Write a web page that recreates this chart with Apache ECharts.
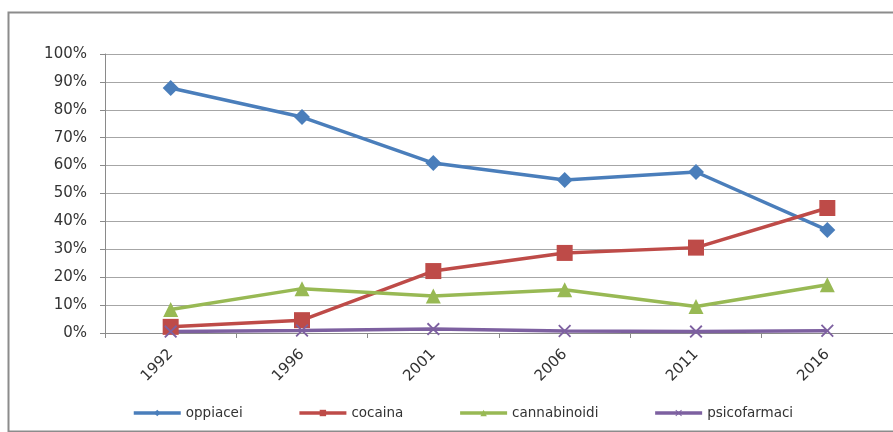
<!DOCTYPE html>
<html>
<head>
<meta charset="utf-8">
<script src="https://cdn.jsdelivr.net/npm/echarts@6/dist/echarts.min.js"></script>
<style>
  html, body { margin: 0; padding: 0; background: #fff; }
  #chart { width: 893px; height: 432px; }
</style>
</head>
<body>
<div id="chart"></div>
<script>
// Years on the category axis
const years = ['1992', '1996', '2001', '2006', '2011', '2016'];

// Share of users by substance (percent)
const oppiacei     = [87.8, 77.4, 60.9, 54.8, 57.7, 36.9];
const cocaina      = [2.2, 4.6, 22.2, 28.7, 30.6, 44.8];
const cannabinoidi = [8.4, 15.9, 13.3, 15.5, 9.5, 17.3];
const psicofarmaci = [0.5, 0.9, 1.4, 0.7, 0.5, 0.8];

// Value axis ticks
const yTicks = [0, 10, 20, 30, 40, 50, 60, 70, 80, 90, 100];

const FONT = 'DejaVu Sans';
const crossPath = 'path://M0,1 L1,0 L5,4 L9,0 L10,1 L6,5 L10,9 L9,10 L5,6 L1,10 L0,9 L4,5 Z';

function lineSeries(name, data, color, symbol, size) {
  return {
    name: name,
    type: 'line',
    data: data,
    symbol: symbol,
    symbolSize: size,
    showAllSymbol: true,
    lineStyle: { color: color, width: 3.5 },
    itemStyle: { color: color, borderColor: color, borderWidth: 0 },
    emphasis: { disabled: true },
    animation: false
  };
}

const chart = echarts.init(document.getElementById('chart'), null, { renderer: 'canvas' });
chart.setOption({
  backgroundColor: '#ffffff',
  animation: false,
  graphic: [{
    type: 'rect',
    left: 6, top: 10,
    shape: { width: 900, height: 419 },
    style: { fill: 'none', stroke: '#8c8c8c', lineWidth: 2 },
    silent: true
  }],
  grid: { left: 105, right: -1, top: 54, bottom: 99, containLabel: false },
  legend: {
    left: 127, top: 401,
    itemWidth: 47, itemHeight: 8, itemGap: 55,
    lineStyle: { width: 3.5 },
    textStyle: { fontFamily: FONT, fontSize: 13.5, color: '#333' },
    data: ['oppiacei', 'cocaina', 'cannabinoidi', 'psicofarmaci']
  },
  xAxis: {
    type: 'category',
    data: years,
    boundaryGap: true,
    axisLine: { lineStyle: { color: '#8a8a8a', width: 1 } },
    axisTick: { show: true, length: 5, lineStyle: { color: '#8a8a8a' } },
    axisLabel: { rotate: 45, margin: 19, fontFamily: FONT, fontSize: 15, color: '#333' }
  },
  yAxis: {
    type: 'value',
    min: yTicks[0], max: yTicks[yTicks.length - 1], interval: 10,
    axisLine: { show: true, lineStyle: { color: '#8a8a8a', width: 1 } },
    axisTick: { show: true, length: 5, lineStyle: { color: '#8a8a8a' } },
    axisLabel: { margin: 18, fontFamily: FONT, fontSize: 15, color: '#333', formatter: v => v + '%' },
    splitLine: { lineStyle: { color: '#a6a6a6', width: 1 } }
  },
  series: [
    lineSeries('oppiacei', oppiacei, '#4a7ebb', 'diamond', 16),
    lineSeries('cocaina', cocaina, '#be4b48', 'rect', 16),
    lineSeries('cannabinoidi', cannabinoidi, '#98b954', 'triangle', 15),
    lineSeries('psicofarmaci', psicofarmaci, '#7d60a0', crossPath, 13)
  ]
});
</script>
</body>
</html>
